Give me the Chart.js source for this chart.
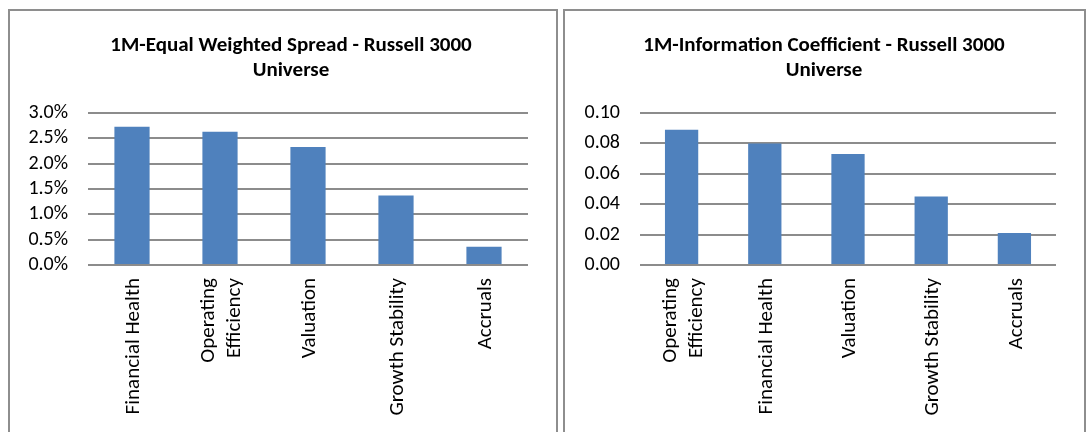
<!DOCTYPE html>
<html>
<head>
<meta charset="utf-8">
<script src="https://cdn.jsdelivr.net/npm/chart.js@4"></script>
<style>
  html, body { margin: 0; padding: 0; background: #fff; width: 1091px; height: 432px; overflow: hidden; }
  .panel { position: absolute; top: 9px; border: 2px solid #8e8e8e; height: 460px; background: #fff; }
  #p1 { left: 8px; width: 546px; }
  #p2 { left: 563px; width: 519px; }
  canvas { position: absolute; left: 0; top: 0; }
  .title { position: absolute; top: 32px; width: 440px; text-align: center; font: bold 21px/25px Carlito, Calibri, Lato, "Open Sans", sans-serif; color: #000; }
  #t1 { left: 71px; }
  #t2 { left: 604px; }
</style>
</head>
<body>
<div class="panel" id="p1"><canvas id="c1" width="546" height="421"></canvas></div>
<div class="panel" id="p2"><canvas id="c2" width="519" height="421"></canvas></div>
<div class="title" id="t1"></div>
<div class="title" id="t2"></div>
<script>
// ---- data ----
const spreadTitle = ['1M-Equal Weighted Spread - Russell 3000', 'Universe'];
const spreadCategories = [['Financial Health'], ['Operating', 'Efficiency'], ['Valuation'], ['Growth Stability'], ['Accruals']];
const spreadValues = [2.73, 2.63, 2.33, 1.37, 0.36];          // percent
const spreadTicks = ['0.0%', '0.5%', '1.0%', '1.5%', '2.0%', '2.5%', '3.0%'];

const icTitle = ['1M-Information Coefficient - Russell 3000', 'Universe'];
const icCategories = [['Operating', 'Efficiency'], ['Financial Health'], ['Valuation'], ['Growth Stability'], ['Accruals']];
const icValues = [0.089, 0.080, 0.073, 0.045, 0.021];
const icTicks = ['0.00', '0.02', '0.04', '0.06', '0.08', '0.10'];

// ---- styling ----
const FONT = 'Carlito, Calibri, Lato, "Open Sans", sans-serif';
const BAR = '#4F81BD';
const GRID = '#8c8c8c';

function setTitle(id, lines) {
  const el = document.getElementById(id);
  lines.forEach((ln, i) => {
    if (i) el.appendChild(document.createElement('br'));
    el.appendChild(document.createTextNode(ln));
  });
}
setTitle('t1', spreadTitle);
setTitle('t2', icTitle);

const xLabelPlugin = {
  id: 'xLabels',
  afterDraw(chart) {
    const xs = chart.scales.x;
    const ctx = chart.ctx;
    const lh = 26;
    ctx.save();
    ctx.fillStyle = '#000';
    ctx.font = '21px ' + FONT;
    ctx.textAlign = 'right';
    ctx.textBaseline = 'middle';
    chart.data.labels.forEach((lab, i) => {
      const lines = Array.isArray(lab) ? lab : [lab];
      const px = xs.getPixelForTick(i) + 2;
      ctx.save();
      ctx.translate(px, xs.top + 13);
      ctx.rotate(-Math.PI / 2);
      lines.forEach((ln, j) => ctx.fillText(ln, 0, (j - (lines.length - 1) / 2) * lh));
      ctx.restore();
    });
    ctx.restore();
  }
};

function makeChart(id, cats, vals, ticks, yMax, step, yWidth, padRight) {
  return new Chart(document.getElementById(id), {
    type: 'bar',
    data: {
      labels: cats,
      datasets: [{ data: vals, backgroundColor: BAR, borderWidth: 0,
                   categoryPercentage: 1.0, barPercentage: 0.4 }]
    },
    options: {
      responsive: false,
      animation: false,
      devicePixelRatio: 1,
      layout: { padding: { left: 0, right: padRight, top: 102, bottom: 0 } },
      plugins: {
        legend: { display: false },
        tooltip: { enabled: false },
        title: { display: false }
      },
      scales: {
        x: {
          grid: { display: false },
          border: { display: false },
          ticks: { display: false },
          afterFit: s => { s.height = 167; }
        },
        y: {
          min: 0, max: yMax,
          grid: { color: GRID, lineWidth: 2, drawTicks: false },
          border: { display: false },
          ticks: {
            stepSize: step,
            autoSkip: false,
            padding: 20,
            color: '#000',
            font: { family: FONT, size: 20, lineHeight: 1 },
            callback: (v, i) => ticks[i]
          },
          afterFit: s => { s.width = yWidth; }
        }
      }
    },
    plugins: [xLabelPlugin]
  });
}

makeChart('c1', spreadCategories, spreadValues, spreadTicks, 3, 0.5, 78, 28);
makeChart('c2', icCategories, icValues, icTicks, 0.1, 0.02, 75, 28);
</script>
</body>
</html>
